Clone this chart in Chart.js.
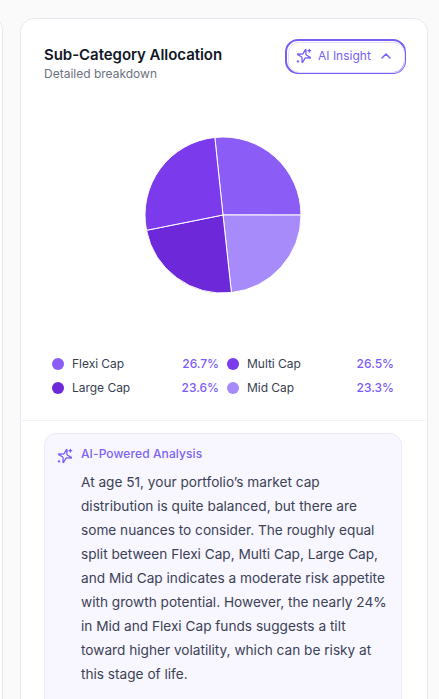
<!DOCTYPE html>
<html>
<head>
<meta charset="utf-8">
<script src="https://cdn.jsdelivr.net/npm/chart.js@4"></script>
<style>
  html, body { margin: 0; padding: 0; width: 439px; height: 699px; overflow: hidden; background: #fafafa; font-family: Inter, sans-serif; }
  .abs { position: absolute; white-space: nowrap; }
  #leftCard { left: -20px; top: 18px; width: 21px; height: 760px; background: #fff; border: 1px solid #e6e8f0; border-radius: 14px; }
  #card { left: 19.5px; top: 17.5px; width: 406px; height: 760px; background: #fff; border: 1px solid #e6e8f0; border-radius: 14px; }
  #title { left: 44px; top: 45px; font-size: 15px; line-height: 20px; font-weight: 600; color: #111827; letter-spacing: -0.05px; }
  #subtitle { left: 44px; top: 66px; font-size: 12px; line-height: 15px; color: #6b7280; }
  #btn { left: 284.5px; top: 38.5px; width: 117px; height: 31px; border: 2px solid #7560f5; border-radius: 13px; }
  #btnInner { left: 287.5px; top: 41.5px; width: 115px; height: 29px; border: 1px solid #e4dffc; border-radius: 11px; }
  #btnText { left: 318px; top: 47px; font-size: 12px; line-height: 18px; font-weight: 400; color: #7560f5; }
  #pie { left: 123px; top: 115px; }
  .name { font-size: 12px; line-height: 16px; color: #374151; letter-spacing: -0.03px; }
  .pct { font-size: 12px; line-height: 16px; font-weight: 500; color: #7c5cf6; text-align: right; }
  .dot { width: 12px; height: 12px; border-radius: 50%; }
  #divider { left: 20px; top: 420px; width: 406px; height: 1px; background: #f1f2f7; }
  #panel { left: 44px; top: 433px; width: 356px; height: 300px; background: #f8f6fe; border: 1px solid #ece9fb; border-radius: 12px; }
  #panelTitle { left: 81px; top: 446px; font-size: 12px; line-height: 16px; font-weight: 500; color: #7c63f6; letter-spacing: 0.1px; }
  .body { left: 81px; font-size: 13.65px; line-height: 24px; color: #3b4256; }
</style>
</head>
<body>
<div class="abs" id="leftCard"></div>
<div class="abs" id="card"></div>
<div class="abs" id="title">Sub-Category Allocation</div>
<div class="abs" id="subtitle">Detailed breakdown</div>
<div class="abs" id="btn"></div>
<div class="abs" id="btnInner"></div>
<svg class="abs" style="left:296px;top:48px" width="16" height="16" viewBox="0 0 24 24" fill="none" stroke="#7560f5" stroke-width="2" stroke-linecap="round" stroke-linejoin="round"><g transform="rotate(15 12 12)"><path d="M9.937 15.5A2 2 0 0 0 8.5 14.063l-6.135-1.582a.5.5 0 0 1 0-.962L8.5 9.936A2 2 0 0 0 9.937 8.5l1.582-6.135a.5.5 0 0 1 .963 0L14.063 8.5A2 2 0 0 0 15.5 9.937l6.135 1.581a.5.5 0 0 1 0 .964L15.5 14.063a2 2 0 0 0-1.437 1.437l-1.582 6.135a.5.5 0 0 1-.963 0z"/></g><path d="M20 2v4M22 4h-4M3 19v2M4 20H2"/></svg>
<div class="abs" id="btnText">AI Insight</div>
<svg class="abs" style="left:378px;top:48px" width="16" height="16" viewBox="0 0 24 24" fill="none" stroke="#7560f5" stroke-width="2.2" stroke-linecap="round" stroke-linejoin="round"><path d="M18 15l-6-6-6 6"/></svg>
<canvas class="abs" id="pie" width="200" height="200"></canvas>
<div id="legend"></div>
<div class="abs" id="divider"></div>
<div class="abs" id="panel"></div>
<svg class="abs" style="left:57px;top:448px" width="16" height="16" viewBox="0 0 24 24" fill="none" stroke="#7560f5" stroke-width="2" stroke-linecap="round" stroke-linejoin="round"><g transform="rotate(15 12 12)"><path d="M9.937 15.5A2 2 0 0 0 8.5 14.063l-6.135-1.582a.5.5 0 0 1 0-.962L8.5 9.936A2 2 0 0 0 9.937 8.5l1.582-6.135a.5.5 0 0 1 .963 0L14.063 8.5A2 2 0 0 0 15.5 9.937l6.135 1.581a.5.5 0 0 1 0 .964L15.5 14.063a2 2 0 0 0-1.437 1.437l-1.582 6.135a.5.5 0 0 1-.963 0z"/></g><path d="M20 2v4M22 4h-4M3 19v2M4 20H2"/></svg>
<div class="abs" id="panelTitle">AI-Powered Analysis</div>
<div id="analysis"></div>
<script>
// ---------- data ----------
const categories = ["Flexi Cap", "Mid Cap", "Large Cap", "Multi Cap"];
const allocation = [26.7, 23.3, 23.6, 26.5];
const sliceColors = ["#8b5cf6", "#a78bfa", "#6d28d9", "#7c3aed"];
const legendOrder = ["Flexi Cap", "Multi Cap", "Large Cap", "Mid Cap"];
const analysisLines = [
  "At age 51, your portfolio’s market cap",
  "distribution is quite balanced, but there are",
  "some nuances to consider. The roughly equal",
  "split between Flexi Cap, Multi Cap, Large Cap,",
  "and Mid Cap indicates a moderate risk appetite",
  "with growth potential. However, the nearly 24%",
  "in Mid and Flexi Cap funds suggests a tilt",
  "toward higher volatility, which can be risky at",
  "this stage of life.",
];

// ---------- legend ----------
const addDiv = (parent, cls, css, text) => {
  const d = document.createElement("div");
  d.className = "abs " + cls;
  d.style.cssText = css;
  if (text) d.textContent = text;
  parent.appendChild(d);
};
const legend = document.getElementById("legend");
legendOrder.forEach((name, i) => {
  const k = categories.indexOf(name);
  const col = i % 2 ? 227 : 52;
  const right = i % 2 ? 45 : 220;
  const top = i < 2 ? 356 : 380;
  addDiv(legend, "dot", `left:${col}px;top:${top + 2}px;background:${sliceColors[k]}`);
  addDiv(legend, "name", `left:${col + 20}px;top:${top}px`, name);
  addDiv(legend, "pct", `right:${right}px;top:${top}px`, allocation[k].toFixed(1) + "%");
});

// ---------- analysis text ----------
const analysis = document.getElementById("analysis");
analysisLines.forEach((line, i) => {
  addDiv(analysis, "body", `top:${470 + i * 24}px`, line);
});

// ---------- chart ----------
new Chart(document.getElementById("pie"), {
  type: "pie",
  data: {
    labels: categories,
    datasets: [{ data: allocation, backgroundColor: sliceColors, borderColor: "#ffffff", borderWidth: 1 }],
  },
  options: {
    responsive: false,
    animation: false,
    rotation: -6,
    radius: 78,
    layout: { padding: 0 },
    plugins: { legend: { display: false }, tooltip: { enabled: false } },
  },
});
</script>
</body>
</html>
